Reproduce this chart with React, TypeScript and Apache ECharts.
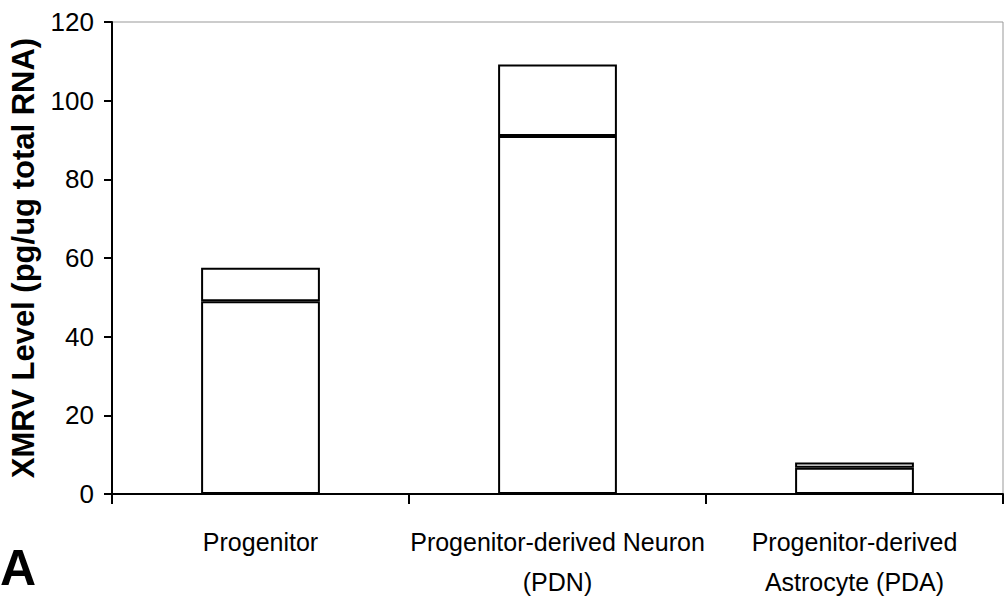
import React, { useEffect, useRef } from "react";
import * as echarts from "echarts";

const categories = ["Progenitor", "Progenitor-derived Neuron\n(PDN)", "Progenitor-derived\nAstrocyte (PDA)"];
const lowerValues = [49, 91, 6.7];
const upperValues = [8.5, 18.2, 1.3];
const yTicks = { min: 0, max: 120, interval: 20 };

export default function App() {
  const ref = useRef<HTMLDivElement>(null);
  useEffect(() => {
    const chart = echarts.init(ref.current!, null, { renderer: "svg" });
    const sans = "'Liberation Sans', Arial, Helvetica, sans-serif";
    const barStyle = { color: "#ffffff", borderColor: "#000000", borderWidth: 2 };
    chart.setOption({
      animation: false,
      backgroundColor: "#ffffff",
      grid: { left: 110, right: 2, top: 22, bottom: 111, show: true, borderColor: "#999999", borderWidth: 1, backgroundColor: "transparent" },
      xAxis: {
        type: "category",
        data: categories,
        boundaryGap: true,
        axisLine: { lineStyle: { color: "#000", width: 2 } },
        axisTick: { show: true, alignWithLabel: false, length: 10, lineStyle: { color: "#000", width: 2 } },
        axisLabel: { color: "#000", fontFamily: sans, fontSize: 25, lineHeight: 40, margin: 28, interval: 0 },
      },
      yAxis: {
        type: "value",
        min: yTicks.min,
        max: yTicks.max,
        interval: yTicks.interval,
        name: "XMRV Level (pg/ug total RNA)",
        nameLocation: "middle",
        nameGap: 73,
        nameTextStyle: { color: "#000", fontFamily: sans, fontWeight: "bold", fontSize: 31 },
        axisLine: { show: true, lineStyle: { color: "#000", width: 2 } },
        axisTick: { show: true, length: 8, lineStyle: { color: "#000", width: 2 } },
        axisLabel: { color: "#000", fontFamily: sans, fontSize: 26, margin: 18 },
        splitLine: { show: false },
      },
      series: [
        { type: "bar", stack: "a", data: lowerValues, barWidth: "40%", itemStyle: barStyle },
        { type: "bar", stack: "a", data: upperValues, barWidth: "40%", itemStyle: barStyle },
      ],
      graphic: [
        { type: "text", left: 0, top: 543, style: { text: "A", fontSize: 50, fontWeight: "bold", fontFamily: sans, fill: "#000" } },
      ],
    });
    return () => chart.dispose();
  }, []);
  return <div ref={ref} style={{ width: 1005, height: 605, position: "absolute", left: 0, top: 0 }} />;
}
